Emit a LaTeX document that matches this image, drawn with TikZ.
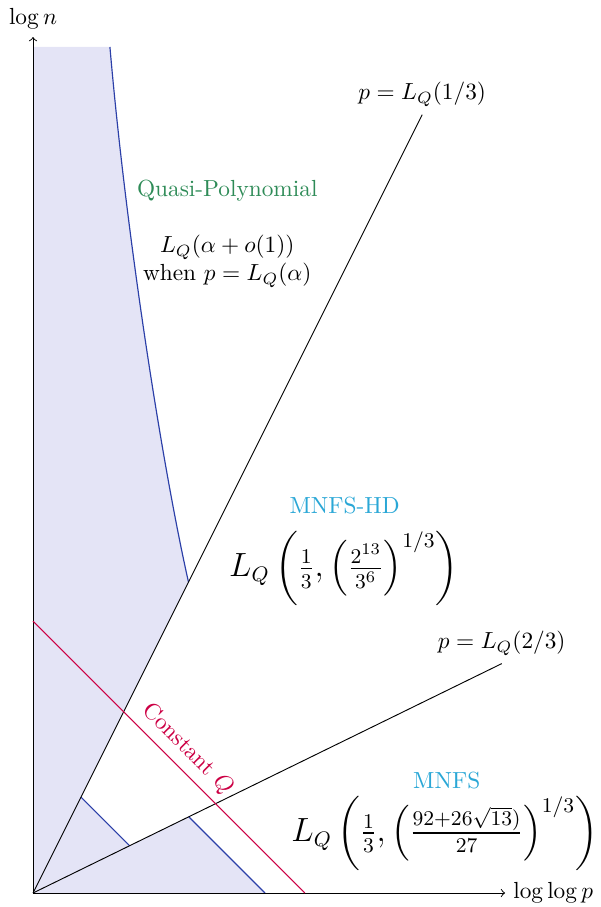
\documentclass[tikz,border=0pt]{standalone}
\usepackage{amsmath, amssymb}
\usepackage{tikz}
\usepackage{xcolor}
\definecolor{qpgreen}{HTML}{2E8B57}
\definecolor{nfsblue}{HTML}{2AA7D6}
\definecolor{constred}{HTML}{CC0044}
\definecolor{regionfill}{HTML}{E4E4F6}
\definecolor{regionline}{HTML}{2B3FA8}

\begin{document}
\begin{tikzpicture}[line width=0.4pt,
  region/.style={fill=regionfill},
  border/.style={draw=regionline, line width=0.5pt},
  bigformula/.style={font=\fontsize{13.3}{16}\selectfont}]
  \useasboundingbox (-0.498,-0.211) rectangle (8.552,13.469);
  % corner points
  \coordinate (O) at (0,0);
  \coordinate (ytop) at (0,12.91);
  \coordinate (xend) at (7.12,0);
  \coordinate (third) at (5.87,11.74);
  \coordinate (twothird) at (7.07,3.46);
  % shaded region
  \fill[region] (O) -- (0,12.76) -- (1.16,12.76)
    .. controls (1.42,9.76) and (1.98,6.3) .. (2.345,4.69)
    -- (0.723,1.447) -- (1.456,0.714) -- (2.349,1.151) -- (3.5,0) -- cycle;
  \draw[border] (1.16,12.76) .. controls (1.42,9.76) and (1.98,6.3) .. (2.345,4.69);
  \draw[border] (0.723,1.447) -- (1.456,0.714);
  \draw[border] (2.349,1.151) -- (3.5,0);
  % axes
  \draw[->] (O) -- (ytop) node[above] (ylabel) {$\log n$};
  \draw[->] (O) -- (xend) node[right] (xlabel) {$\log\log p$};
  % p = L_Q(1/3) and p = L_Q(2/3)
  \draw (O) -- (third) node[above] (thirdlabel) {$p = L_Q(1/3)$};
  \draw (O) -- (twothird) node[above] (twothirdlabel) {$p = L_Q(2/3)$};
  % constant Q
  \draw[constred] (0,4.1) -- node[pos=0.52, above, sloped] (constq) {Constant $Q$} (4.1,0);
  % labels
  \node[qpgreen] (qp) at (2.93,10.6) {Quasi-Polynomial};
  \node[align=center] (qpcost) at (2.93,9.53) {$L_Q(\alpha + o(1))$\\ when $p = L_Q(\alpha)$};
  \node[nfsblue] (hd) at (4.70,5.84) {MNFS-HD};
  \node[bigformula] (hdcost) at (4.69,4.90)
    {$L_Q\left(\frac{1}{3}, \left(\frac{2^{13}}{3^6}\right)^{1/3}\right)$};
  \node[nfsblue] (mnfs) at (6.24,1.70) {MNFS};
  \node[bigformula] (mnfscost) at (6.21,0.905)
    {$L_Q\left(\frac{1}{3}, \left(\frac{92+26\sqrt{13})}{27}\right)^{1/3}\right)$};
\end{tikzpicture}
\end{document}
